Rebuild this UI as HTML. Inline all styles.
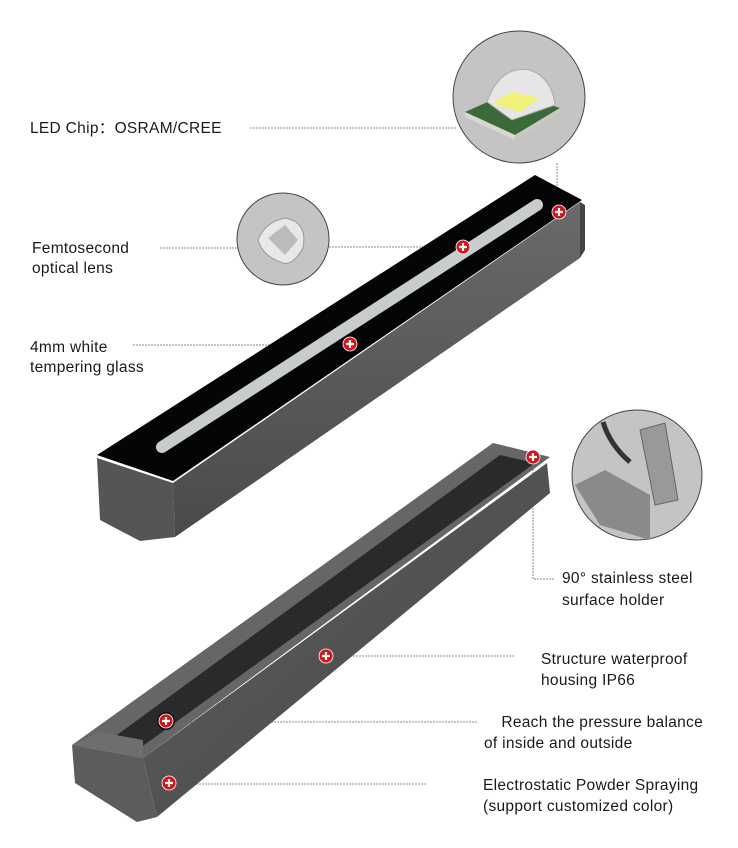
<!DOCTYPE html>
<html><head><meta charset="utf-8"><style>
html,body{margin:0;padding:0;background:#fff;}
svg{display:block}
text{font-family:"Liberation Sans",sans-serif;font-size:15.5px;letter-spacing:0.3px;fill:#1a1a1a;}
</style></head><body>
<svg width="738" height="848" viewBox="0 0 738 848">
<defs>
<linearGradient id="fg" x1="0" y1="0" x2="0" y2="1"><stop offset="0" stop-color="#6a6a6a"/><stop offset="1" stop-color="#4a4a4a"/></linearGradient>
<linearGradient id="bg2" x1="0" y1="0" x2="1" y2="1"><stop offset="0" stop-color="#606060"/><stop offset="1" stop-color="#454545"/></linearGradient>
</defs>
<g stroke="#888" stroke-width="1" stroke-dasharray="2,1" fill="none">
<line x1="250" y1="128" x2="457" y2="128"/>
<polyline points="557,163 557,205"/>
<line x1="160" y1="248" x2="238" y2="248"/>
<line x1="329" y1="247" x2="463" y2="247"/>
<line x1="133" y1="345" x2="350" y2="345"/>
<polyline points="533,457 533,579 555,579"/>
<line x1="326" y1="656" x2="515" y2="656"/>
<line x1="166" y1="722" x2="478" y2="722"/>
<line x1="169" y1="784" x2="427" y2="784"/>
</g>
<!-- circles -->
<circle cx="519" cy="97" r="66" fill="#c4c4c4" stroke="#444" stroke-width="1"/>
<polygon points="465,112 510,92 560,108 515,135" fill="#3a6a3a"/>
<polygon points="465,112 515,135 515,140 465,117" fill="#d8d8d0"/>
<polygon points="515,135 560,108 560,113 515,140" fill="#c8c8c0"/>
<path d="M487,102 Q500,65 530,70 Q552,78 555,105 L512,120 Z" fill="#e6e6e6" stroke="#aaa"/>
<polygon points="492,103 512,92 540,98 520,112" fill="#f2f27a"/>
<circle cx="283" cy="239" r="46" fill="#c4c4c4" stroke="#444" stroke-width="1"/>
<path d="M258,240 Q265,222 285,218 Q308,222 303,248 Q292,268 280,262 Q262,255 258,240Z" fill="#e8e8e8" stroke="#999"/>
<path d="M268,238 L285,225 L298,240 L285,255Z" fill="#bbb"/>
<circle cx="637" cy="475" r="65" fill="#c4c4c4" stroke="#444" stroke-width="1"/>
<path d="M575,485 L605,470 L650,495 L650,540 L600,525Z" fill="#8a8a8a"/>
<polygon points="640,430 665,423 678,500 655,505" fill="#999" stroke="#666"/>
<path d="M603,422 Q610,445 630,462" stroke="#333" stroke-width="5" fill="none"/>
<!-- top bar -->
<polygon points="97,458 173,483 175,537 140,541 100,520" fill="#555"/>
<polygon points="173,483 580,202 580,258 175,537" fill="url(#fg)"/>
<polygon points="580,202 585,205 585,250 580,258" fill="#444"/>
<polygon points="97,455 535,175 582,200 173,481" fill="#050505"/>
<line x1="162" y1="447" x2="537" y2="205" stroke="#c9cccc" stroke-width="12" stroke-linecap="round"/>
<!-- bottom bar -->
<polygon points="143,758 547,463 550,493 157,817" fill="url(#bg2)"/>
<polygon points="72,745 493,443 550,457 143,758" fill="#666"/>
<polygon points="110,740 500,455 535,463 140,748" fill="#2a2a2a"/>
<polygon points="72,745 143,758 157,817 137,822 75,783" fill="#5c5c5c"/>
<polygon points="72,745 100,732 143,740 143,758" fill="#6e6e6e"/>
<circle cx="166" cy="721" r="9" fill="#111"/>
<!-- red markers -->
<g>
<g fill="#d0161c" stroke="#fff" stroke-width="0.8">
<circle cx="559" cy="212" r="7"/><circle cx="463" cy="247" r="7"/><circle cx="350" cy="344" r="7"/>
<circle cx="533" cy="457" r="7"/><circle cx="326" cy="656" r="7"/><circle cx="166" cy="721" r="7"/><circle cx="169" cy="783" r="7"/>
</g>
<g stroke="#fff" stroke-width="2.2">
<path d="M555,212h8M559,208v8M459,247h8M463,243v8M346,344h8M350,340v8M529,457h8M533,453v8M322,656h8M326,652v8M162,721h8M166,717v8M165,783h8M169,779v8"/>
</g>
</g>
<!-- labels -->
<text x="30" y="133">LED Chip<tspan font-family="'Noto Sans CJK SC',sans-serif">：</tspan>OSRAM/CREE</text>
<text x="32" y="253">Femtosecond</text>
<text x="32" y="273">optical lens</text>
<text x="30" y="352">4mm white</text>
<text x="30" y="372">tempering glass</text>
<text x="562" y="583">90° stainless steel</text>
<text x="562" y="605">surface holder</text>
<text x="541" y="664">Structure waterproof</text>
<text x="541" y="685">housing IP66</text>
<text x="703" y="727" text-anchor="end">Reach the pressure balance</text>
<text x="484" y="748">of inside and outside</text>
<text x="483" y="790">Electrostatic Powder Spraying</text>
<text x="483" y="811">(support customized color)</text>
</svg>
</body></html>
